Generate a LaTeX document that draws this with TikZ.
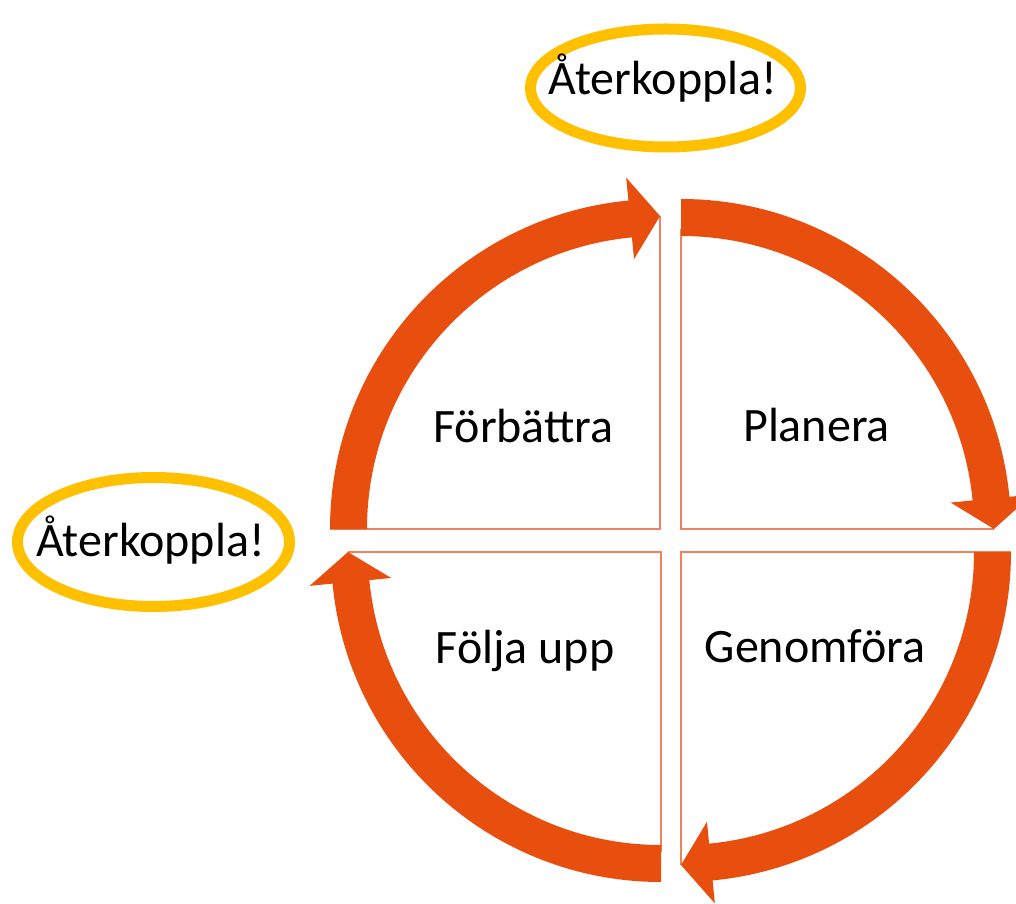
\documentclass[tikz,border=0pt]{standalone}
\usepackage{fontspec}
\setmainfont{Carlito}
\usetikzlibrary{calc,shapes.geometric}
\definecolor{bandc}{RGB}{232,78,14}
\definecolor{linec}{RGB}{238,130,92}
\definecolor{ringc}{RGB}{255,192,0}
\newcommand\qarrow[4]{%
  \fill[bandc] ($(#1)+(#2:330pt)$) arc[start angle=#2, end angle=#3, radius=330pt]
    -- ($(#1)+(#3:353pt)$) -- ($(#1)+(#4:313pt)$) -- ($(#1)+(#3:271pt)$)
    -- ($(#1)+(#3:293pt)$) arc[start angle=#3, end angle=#2, radius=293pt] -- cycle;}
\begin{document}
\begin{tikzpicture}[x=1pt,y=1pt,
  lbl/.style={font=\fontsize{48}{52}\selectfont, anchor=base, inner sep=0pt},
  ring/.style={ellipse, draw=ringc, line width=11pt, inner sep=0pt},
  sector/.style={draw=linec, line width=1.6pt}]
\useasboundingbox (0,0) rectangle (1016,903);
% quadrant corners
\coordinate (tl) at (660,374);
\coordinate (tr) at (681,374);
\coordinate (br) at (681,351);
\coordinate (bl) at (661,351);
% thin sector outlines
\draw[sector] ($(tl)+(180:330pt)$) -- (tl) -- ($(tl)+(90:313pt)$);
\draw[sector] ($(tr)+(90:300pt)$) -- (tr) -- ($(tr)+(0:313pt)$);
\draw[sector] ($(br)+(0:330pt)$) -- (br) -- ($(br)+(-90:313pt)$);
\draw[sector] ($(bl)+(-90:300pt)$) -- (bl) -- ($(bl)+(180:313pt)$);
% arc arrows
\qarrow{tl}{180}{95.5}{90}
\qarrow{tr}{90}{5.6}{0}
\qarrow{br}{0}{-84.5}{-90}
\qarrow{bl}{-90}{-174.5}{-180}
% labels
\node[lbl] (forb) at (523.5,460) {Förbättra};
\node[lbl] (plan) at (816.5,461) {Planera};
\node[lbl] (folj) at (525,240) {Följa upp};
\node[lbl] (genf) at (815,241) {Genomföra};
% feedback ellipses
\node[ring, minimum width=270pt, minimum height=118pt] (ringtop) at (665.5,815) {};
\node[lbl] (txttop) at (663,808) {Återkoppla!};
\node[ring, minimum width=272pt, minimum height=129pt] (ringleft) at (153.5,361) {};
\node[lbl] (txtleft) at (150.5,347) {Återkoppla!};
\end{tikzpicture}
\end{document}
